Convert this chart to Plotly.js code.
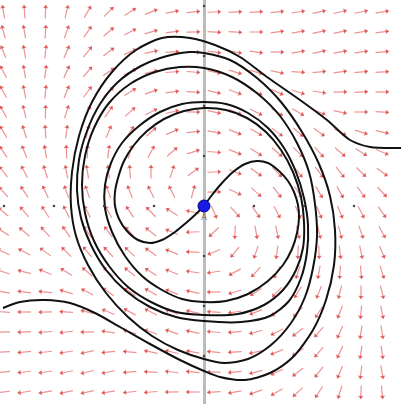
<!DOCTYPE html>
<html>
<head>
<meta charset="utf-8">
<script src="https://cdn.plot.ly/plotly-3.0.1.min.js"></script>
<style>html,body{margin:0;padding:0;background:#fff;}#chart{width:401px;height:404px;}</style>
</head>
<body>
<div id="chart"></div>
<script>
// Sample points of the direction field (graph units)
const gridX = [-4.01,-3.59,-3.17,-2.75,-2.33,-1.91,-1.48,-1.06,-0.64,-0.22,0.20,0.62,1.04,1.46,1.88,2.30,2.72,3.14,3.56];
const gridY = [3.88,3.48,3.08,2.68,2.28,1.88,1.48,1.08,0.68,0.28,-0.12,-0.52,-0.92,-1.32,-1.72,-2.12,-2.52,-2.92,-3.32,-3.72];

// Solution curve 1 (leaves the equilibrium towards lower left, exits on the right)
const curve1X = [0,-0.16,-0.36,-0.58,-0.84,-1.08,-1.32,-1.54,-1.70,-1.78,-1.78,-1.72,-1.60,-1.40,-1.14,-0.80,-0.40,0,0.44,0.86,1.24,1.54,1.78,1.94,2.00,1.98,1.84,1.58,1.20,0.68,0,-0.56,-1.06,-1.52,-1.90,-2.20,-2.38,-2.44,-2.38,-2.20,-1.90,-1.48,-0.98,-0.48,0,0.56,1.08,1.52,1.86,2.10,2.22,2.26,2.18,2.02,1.74,1.34,0.88,0.40,0,-0.52,-1.04,-1.52,-1.96,-2.32,-2.56,-2.66,-2.64,-2.50,-2.24,-1.84,-1.36,-0.84,-0.28,0.22,0.72,1.26,1.92,2.46,2.92,3.32,3.94];
const curve1Y = [0,-0.16,-0.34,-0.52,-0.68,-0.74,-0.68,-0.50,-0.26,0,0.28,0.56,0.90,1.22,1.50,1.74,1.90,1.96,1.92,1.76,1.48,1.12,0.68,0.18,-0.32,-0.84,-1.28,-1.68,-1.98,-2.16,-2.18,-2.12,-1.92,-1.62,-1.20,-0.70,-0.14,0.42,1.00,1.56,2.06,2.44,2.68,2.78,2.76,2.58,2.24,1.80,1.26,0.68,0.04,-0.60,-1.24,-1.82,-2.34,-2.78,-3.06,-3.14,-3.06,-2.88,-2.60,-2.22,-1.74,-1.18,-0.60,0,0.68,1.40,2.08,2.68,3.12,3.36,3.36,3.22,2.98,2.58,2.12,1.72,1.32,1.18,1.16];

// Solution curve 2 (leaves the equilibrium towards upper right, exits on the left)
const curve2X = [0,0.16,0.36,0.58,0.82,1.06,1.28,1.50,1.68,1.80,1.88,1.90,1.86,1.76,1.58,1.28,0.88,0.44,0,-0.44,-0.84,-1.24,-1.58,-1.84,-1.98,-1.98,-1.86,-1.64,-1.30,-0.88,-0.44,0,0.44,0.88,1.28,1.60,1.84,2.00,2.08,2.06,1.94,1.70,1.32,0.74,0,-0.56,-1.08,-1.56,-1.96,-2.26,-2.46,-2.54,-2.50,-2.34,-2.08,-1.72,-1.26,-0.74,-0.28,0,0.52,1.06,1.54,1.96,2.30,2.52,2.62,2.60,2.44,2.18,1.78,1.32,0.82,0.32,0,-0.48,-1.08,-1.68,-2.18,-2.68,-3.18,-3.68,-4.02];
const curve2Y = [0,0.22,0.46,0.68,0.84,0.90,0.86,0.70,0.50,0.28,0.02,-0.24,-0.54,-0.86,-1.18,-1.50,-1.76,-1.90,-1.92,-1.86,-1.68,-1.40,-1.00,-0.52,-0.04,0.42,0.86,1.26,1.60,1.88,2.04,2.08,2.04,1.86,1.56,1.16,0.68,0.16,-0.38,-0.92,-1.44,-1.90,-2.20,-2.32,-2.30,-2.22,-2.02,-1.70,-1.28,-0.78,-0.24,0.32,0.92,1.50,2.04,2.48,2.80,3.00,3.08,3.06,2.92,2.56,2.08,1.48,0.84,0.20,-0.48,-1.18,-1.88,-2.48,-3.02,-3.34,-3.48,-3.42,-3.30,-3.08,-2.76,-2.42,-2.14,-1.94,-1.88,-1.92,-2.04];

// Equilibrium point A
const pointA = {x: 0, y: 0, label: 'A'};
// Axis tick positions
const tickVals = [-4,-3,-2,-1,1,2,3,4];

// The differential system drawn as direction field
function field(x, y) {
  const a = 0.6;
  const tx = a * x + 2 * y;
  const ty = -(2 * x + a * y);
  const H = x * x + a * x * y + y * y;
  const th = Math.atan2(y, x);
  const far = Math.min(Math.max((H - 8) / 9, 0), 1);
  const w = Math.min(0.35 + 0.65 * Math.pow(Math.sin(2 * th), 2) + 0.2 * Math.pow(Math.cos(th), 2), 1);
  const deg = 8 + 37 * Math.exp(-H / 1.2) + 45 * far * w;
  const p = deg * Math.PI / 180;
  const c = Math.cos(p), s = Math.sin(p);
  return [tx * c - ty * s, tx * s + ty * c];
}

const segX = [], segY = [], headX = [], headY = [], headAng = [];
const half = 0.13;
for (const gy of gridY) {
  for (const gx of gridX) {
    const [dx, dy] = field(gx, gy);
    const n = Math.hypot(dx, dy) || 1;
    const ux = dx / n, uy = dy / n;
    segX.push(gx - ux * half, gx + ux * half, null);
    segY.push(gy - uy * half, gy + uy * half, null);
    headX.push(gx + ux * (half - 0.03));
    headY.push(gy + uy * (half - 0.03));
    headAng.push(Math.atan2(ux, uy) * 180 / Math.PI);
  }
}

const traces = [
  {x: segX, y: segY, mode: 'lines', line: {color: 'rgba(220,60,60,0.55)', width: 1.2}, hoverinfo: 'skip'},
  {x: headX, y: headY, mode: 'markers', marker: {symbol: 'triangle-up', size: 4.5, angle: headAng, color: 'rgba(215,45,45,0.65)', line: {width: 0}}, hoverinfo: 'skip'},
  {x: curve1X, y: curve1Y, mode: 'lines', line: {color: '#111', width: 2, shape: 'spline', smoothing: 0.8}},
  {x: curve2X, y: curve2Y, mode: 'lines', line: {color: '#111', width: 2, shape: 'spline', smoothing: 0.8}},
  {x: tickVals.map(() => 0), y: tickVals, mode: 'markers', marker: {size: 2.5, color: '#444'}},
  {x: tickVals, y: tickVals.map(() => 0), mode: 'markers', marker: {size: 2.5, color: '#444'}},
  {x: [pointA.x], y: [pointA.y], mode: 'markers', marker: {size: 12, color: '#1a1ae6', line: {color: '#00007a', width: 1}}},
  {x: [pointA.x], y: [pointA.y - 0.24], mode: 'text', text: [pointA.label], textfont: {size: 8, color: '#8a6a3a', family: 'DejaVu Sans'}}
];

const layout = {
  width: 401, height: 404,
  margin: {l: 0, r: 0, t: 0, b: 0},
  paper_bgcolor: '#fff', plot_bgcolor: '#fff',
  showlegend: false,
  xaxis: {range: [-4.08, 3.94], showgrid: false, zeroline: true, zerolinecolor: '#bcbcbc', zerolinewidth: 3, showticklabels: false, ticks: '', fixedrange: true},
  yaxis: {range: [-3.96, 4.12], showgrid: false, zeroline: false, showticklabels: false, ticks: '', fixedrange: true}
};

Plotly.newPlot('chart', traces, layout, {staticPlot: true, displayModeBar: false});
</script>
</body>
</html>
